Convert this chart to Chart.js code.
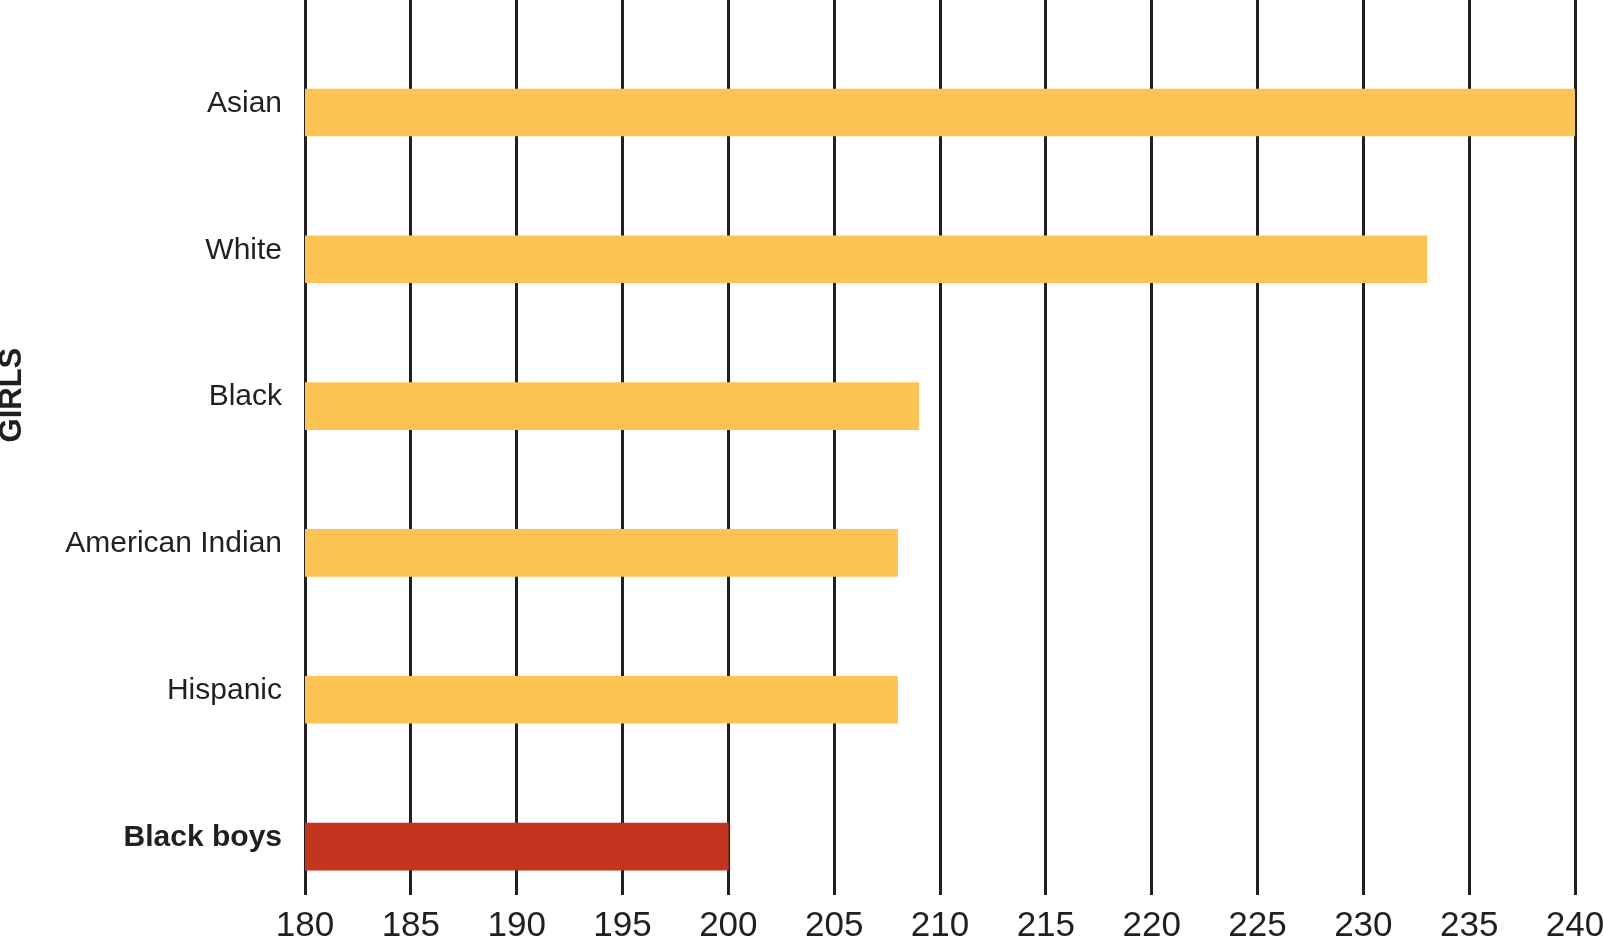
<!DOCTYPE html>
<html>
<head>
<meta charset="utf-8">
<script src="https://cdn.jsdelivr.net/npm/chart.js@4/dist/chart.umd.min.js"></script>
<style>
  html, body { margin: 0; padding: 0; background: #ffffff; }
  #c { display: block; }
</style>
</head>
<body>
<canvas id="c" width="1603" height="942"></canvas>
<script>
const categories = ["Asian", "White", "Black", "American Indian", "Hispanic", "Black boys"];
const scores = [240, 233, 209, 208, 208, 200];
const barColors = ["#fdc455", "#fdc455", "#fdc455", "#fdc455", "#fdc455", "#c4351f"];
const xTickMin = 180;
const xTickMax = 240;
const xTickStep = 5;
const groupTitle = "GIRLS";

const ink = "#231f20";
const fontFamily = "'Liberation Sans', Arial, Helvetica, sans-serif";

const girlsTitle = {
  id: "girlsTitle",
  afterDraw(chart) {
    const ctx = chart.ctx;
    const y = chart.scales.y;
    const top = y.getPixelForValue(0) - 9;
    const bottom = y.getPixelForValue(4) - 9;
    ctx.save();
    ctx.translate(12, (top + bottom) / 2 - 2);
    ctx.rotate(-Math.PI / 2);
    ctx.fillStyle = ink;
    ctx.font = "bold 31px " + fontFamily;
    ctx.textAlign = "center";
    ctx.textBaseline = "middle";
    ctx.fillText(groupTitle, 0, 0);
    ctx.restore();
  }
};

new Chart(document.getElementById("c"), {
  type: "bar",
  data: {
    datasets: [{
      data: scores.map((v, i) => ({ x: v, y: i })),
      backgroundColor: barColors,
      borderWidth: 0,
      barThickness: 47
    }]
  },
  options: {
    indexAxis: "y",
    responsive: false,
    animation: false,
    devicePixelRatio: 1,
    layout: { padding: { left: 0, right: 28, top: 0, bottom: 0 } },
    plugins: {
      legend: { display: false },
      tooltip: { enabled: false },
      title: { display: false }
    },
    scales: {
      x: {
        type: "linear",
        position: "bottom",
        min: xTickMin,
        max: xTickMax,
        ticks: {
          stepSize: xTickStep,
          color: ink,
          padding: 14,
          maxRotation: 0,
          font: { family: fontFamily, size: 35, lineHeight: 1 }
        },
        grid: { color: ink, lineWidth: 3, drawTicks: false },
        border: { display: false },
        afterFit(s) { s.height = 47; s.paddingLeft = 0; s.paddingRight = 28; }
      },
      y: {
        type: "linear",
        reverse: true,
        offset: false,
        grace: 0,
        min: -0.766,
        max: 5.33,
        afterBuildTicks(s) { s.ticks = categories.map((_, i) => ({ value: i })); },
        ticks: {
          color: ink,
          padding: 23,
          labelOffset: -9,
          callback: (v) => categories[v],
          font: (ctx) => ({
            family: fontFamily,
            size: 30,
            weight: (ctx.tick && ctx.tick.value === 5) ? "bold" : "normal"
          })
        },
        grid: { display: false, drawTicks: false },
        border: { display: false },
        afterFit(s) { s.width = 305; s.paddingTop = 0; s.paddingBottom = 0; }
      }
    }
  },
  plugins: [girlsTitle]
});
</script>
</body>
</html>
